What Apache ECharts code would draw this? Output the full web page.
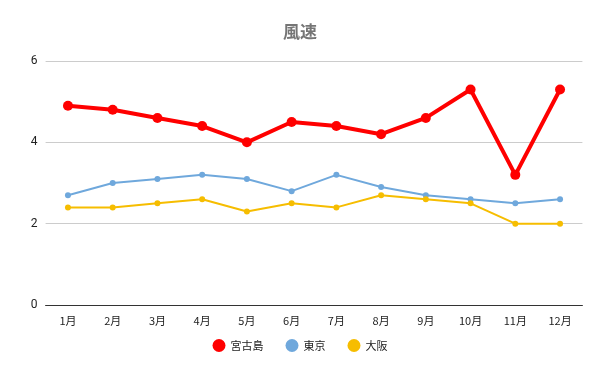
<!DOCTYPE html>
<html><head><meta charset="utf-8">
<script src="https://cdn.jsdelivr.net/npm/echarts@6/dist/echarts.min.js"></script>
<style>html,body{margin:0;padding:0;background:#fff}#c{width:600px;height:371px}</style>
</head><body><div id="c"></div>
<script>
const months = ['1月','2月','3月','4月','5月','6月','7月','8月','9月','10月','11月','12月'];
const miyakojima = [4.9,4.8,4.6,4.4,4.0,4.5,4.4,4.2,4.6,5.3,3.2,5.3];
const tokyo = [2.7,3.0,3.1,3.2,3.1,2.8,3.2,2.9,2.7,2.6,2.5,2.6];
const osaka = [2.4,2.4,2.5,2.6,2.3,2.5,2.4,2.7,2.6,2.5,2.0,2.0];
const font = '"Noto Sans CJK JP", Roboto, sans-serif';
const chart = echarts.init(document.getElementById('c'));
chart.setOption({
  animation:false,
  title:{text:'風速',left:'center',top:18,textStyle:{fontFamily:font,fontSize:17,fontWeight:'bold',color:'#757575'}},
  legend:{bottom:14,left:'center',itemGap:22,itemWidth:13,itemHeight:13,
    textStyle:{fontFamily:font,fontSize:11,color:'#222'},
    data:[{name:'宮古島',icon:'circle'},{name:'東京',icon:'circle'},{name:'大阪',icon:'circle'}]},
  grid:{left:45.6,right:17.6,top:61,bottom:66},
  xAxis:{type:'category',data:months,boundaryGap:true,
    axisLine:{lineStyle:{color:'#333',width:1}},axisTick:{show:false},
    axisLabel:{fontFamily:font,fontSize:11,color:'#222',margin:10}},
  yAxis:{type:'value',min:0,max:6,interval:2,
    axisLine:{show:false},axisTick:{show:false},
    splitLine:{lineStyle:{color:'#cccccc'}},
    axisLabel:{fontFamily:'Roboto, sans-serif',fontSize:12,color:'#222',margin:8}},
  series:[
    {name:'宮古島',type:'line',data:miyakojima,color:'#ff0000',symbol:'circle',symbolSize:10,
     lineStyle:{width:4,color:'#ff0000'},itemStyle:{color:'#ff0000'},z:3},
    {name:'東京',type:'line',data:tokyo,color:'#6fa8dc',symbol:'circle',symbolSize:6,
     lineStyle:{width:2,color:'#6fa8dc'},itemStyle:{color:'#6fa8dc'},z:2},
    {name:'大阪',type:'line',data:osaka,color:'#f6bd00',symbol:'circle',symbolSize:6,
     lineStyle:{width:2,color:'#f6bd00'},itemStyle:{color:'#f6bd00'},z:2}
  ]
});
</script></body></html>
